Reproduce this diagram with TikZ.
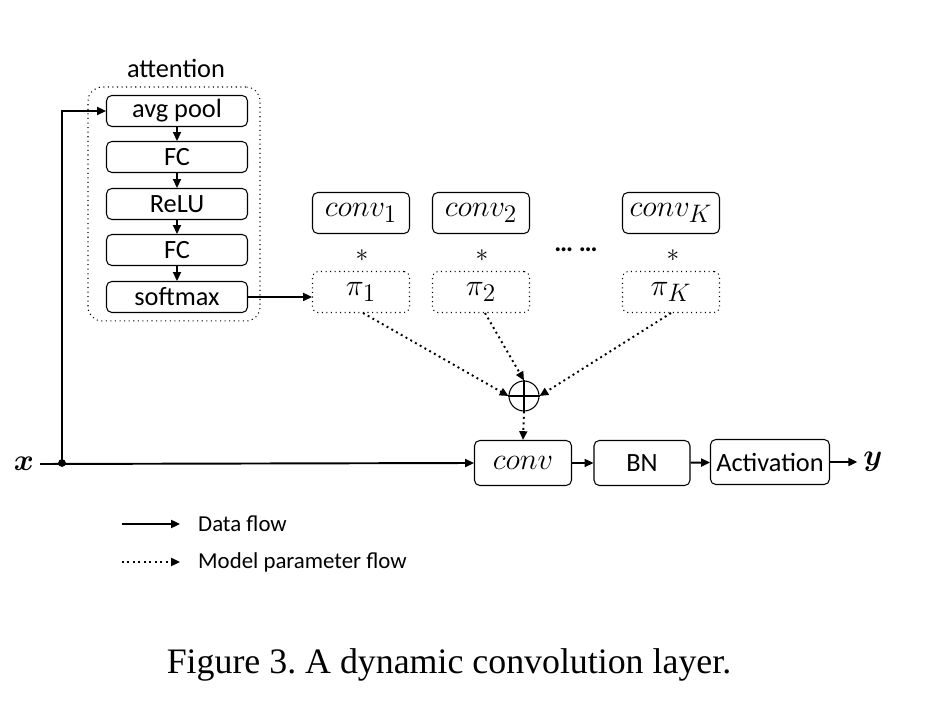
\documentclass[tikz,border=0pt]{standalone}
\usepackage{fontspec}
\usepackage{bm}
\setmainfont{Carlito}
\newfontfamily\capfont{Liberation Serif}
\usetikzlibrary{arrows.meta}
\frenchspacing
\begin{document}
\begin{tikzpicture}[x=0.02cm,y=-0.02cm,
  blk/.style={draw, rounded corners=3pt, line width=0.6pt, inner sep=0pt, font=\fontsize{15}{17}\selectfont},
  attbox/.style={blk, minimum width=2.82cm, minimum height=0.62cm},
  kbox/.style={blk, minimum width=1.94cm, minimum height=0.82cm, font=\fontsize{19}{21}\selectfont},
  pibox/.style={kbox, dotted},
  mainbox/.style={blk, minimum height=0.9cm},
  data/.style={line width=1.1pt, -{Triangle[length=5pt,width=4.5pt]}},
  param/.style={line width=1.1pt, dotted, -{Triangle[length=5pt,width=4.5pt]}},
  lbl/.style={font=\fontsize{13}{15}\selectfont}
]
\useasboundingbox (0,0) rectangle (948,702);

% attention block
\node[font=\fontsize{15}{17}\selectfont] (atttitle) at (176,68) {attention};
\node[draw, dotted, rounded corners=8pt, line width=0.6pt, minimum width=3.44cm, minimum height=4.68cm] (att) at (174,204) {};
\node[attbox] (pool) at (177,111) {avg pool};
\node[attbox] (fc1) at (177,157) {FC};
\node[attbox] (relu) at (177,204) {ReLU};
\node[attbox] (fc2) at (177,250) {FC};
\node[attbox] (soft) at (177,297) {softmax};
\draw[data] (pool) -- (fc1);
\draw[data] (fc1) -- (relu);
\draw[data] (relu) -- (fc2);
\draw[data] (fc2) -- (soft);

% kernels
\node[kbox] (c1) at (361,213) {$conv_1$};
\node[kbox] (c2) at (481,213) {$conv_2$};
\node[kbox] (cK) at (671,213) {$conv_K$};
\node[font=\fontsize{15}{17}\selectfont] (s1) at (362,256) {$*$};
\node[font=\fontsize{15}{17}\selectfont] (s2) at (482,256) {$*$};
\node[font=\fontsize{15}{17}\selectfont] (sK) at (673,256) {$*$};
\node[font=\fontsize{15}{17}\selectfont] (dots) at (576,250) {\textbf{\dots\ \dots}};
\node[pibox] (p1) at (361,292) {$\pi_1$};
\node[pibox] (p2) at (481,292) {$\pi_2$};
\node[pibox] (pK) at (671,292) {$\pi_K$};

\draw[data] (soft.east) -- (soft.east -| p1.west);

% sum
\node[draw, circle, line width=0.6pt, minimum size=0.6cm, inner sep=0pt] (sum) at (524,396) {};
\draw[line width=0.6pt] (sum.west) -- (sum.east);
\draw[line width=0.6pt] (sum.north) -- (sum.south);
\draw[param] (363,313) -- (sum.west);
\draw[param] (485,313) -- (sum.north);
\draw[param] (pK.south) -- (sum.east);

% main path
\node[mainbox, minimum width=1.94cm, font=\fontsize{19}{21}\selectfont] (conv) at (523,463) {$conv$};
\node[mainbox, minimum width=1.92cm] (bn) at (642,463) {BN};
\node[mainbox, minimum width=2.38cm] (act) at (770,462) {Activation};
\node[font=\fontsize{17}{19}\selectfont] (x) at (24,464) {$\bm{x}$};
\node[font=\fontsize{17}{19}\selectfont] (y) at (873,462) {$\bm{y}$};
\coordinate (split) at (62,463);
\fill (split) circle (2.2pt);
\draw[data] (x.east) -- (conv.west);
\draw[data] (split) |- (pool.west);
\draw[param] (sum.south) -- (conv.north);
\draw[data] (conv) -- (bn);
\draw[data] (bn) -- (act);
\draw[data] (act.east) -- (y.west);

% legend
\coordinate (la1) at (122,524);
\coordinate (la2) at (180,524);
\coordinate (lb1) at (122,562);
\coordinate (lb2) at (180,562);
\draw[data] (la1) -- (la2);
\draw[param] (lb1) -- (lb2);
\node[lbl, anchor=west] (ltxt1) at (192,524) {Data flow};
\node[lbl, anchor=west] (ltxt2) at (192,562) {Model parameter flow};

% caption
\node[font=\capfont\fontsize{20.4}{24}\selectfont] (cap) at (449,665) {Figure 3. A dynamic convolution layer.};
\end{tikzpicture}
\end{document}
